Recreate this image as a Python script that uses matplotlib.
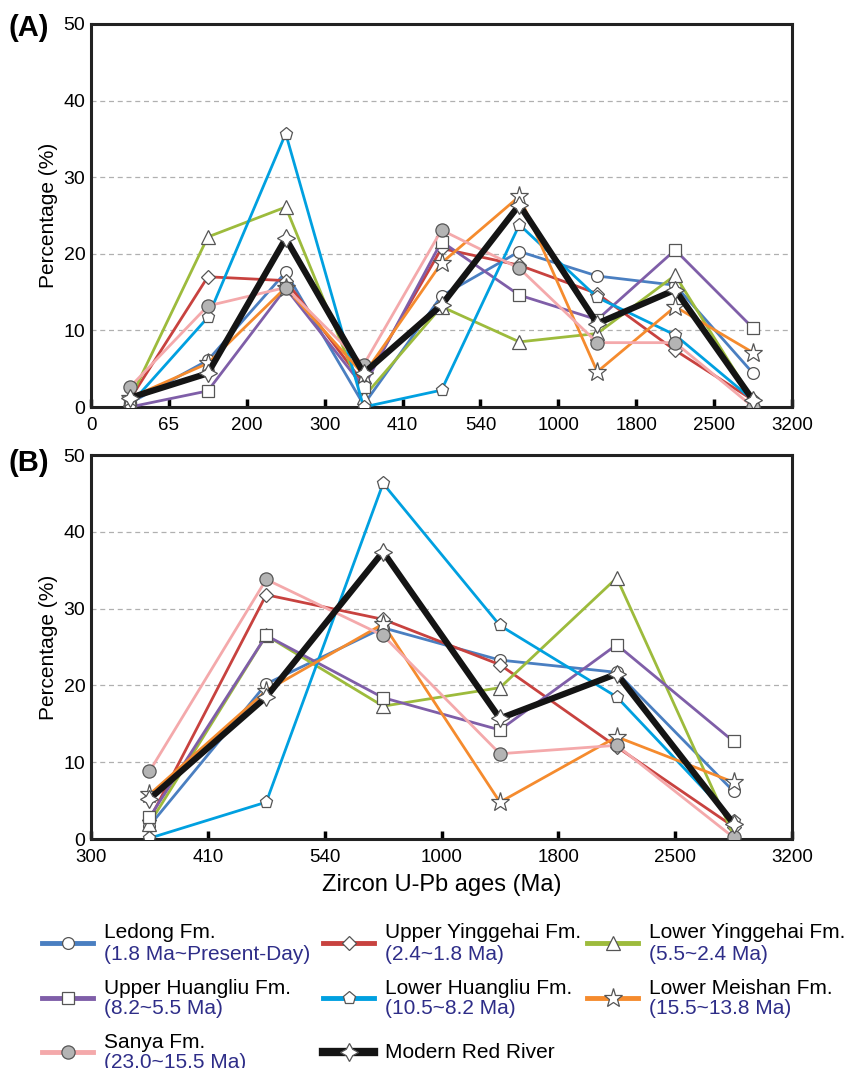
import numpy as np
import matplotlib.pyplot as plt
from matplotlib.lines import Line2D

plt.rcParams['font.family'] = ['Liberation Sans', 'DejaVu Sans']

# 凡例の名前と年代
names = ["Ledong Fm.", "Upper Yinggehai Fm.", "Lower Yinggehai Fm.",
         "Upper Huangliu Fm.", "Lower Huangliu Fm.", "Lower Meishan Fm.",
         "Sanya Fm.", "Modern Red River"]
ages = ["(1.8 Ma~Present-Day)", "(2.4~1.8 Ma)", "(5.5~2.4 Ma)",
        "(8.2~5.5 Ma)", "(10.5~8.2 Ma)", "(15.5~13.8 Ma)",
        "(23.0~15.5 Ma)", ""]

# (A) の区切りと値 (%)
ticks_a = ["0", "65", "200", "300", "410", "540", "1000", "1800", "2500", "3200"]
ledong_a = [0.5, 6.1, 17.6, 0.3, 14.5, 20.3, 17.1, 15.9, 4.4]
up_ying_a = [1.0, 17.0, 16.5, 3.1, 20.7, 18.5, 14.8, 7.4, 0.9]
lo_ying_a = [1.0, 22.2, 26.1, 1.3, 13.1, 8.5, 9.6, 17.2, 0.9]
up_huang_a = [0.0, 2.1, 15.5, 2.6, 21.6, 14.6, 11.4, 20.5, 10.3]
lo_huang_a = [0.3, 11.7, 35.7, 0.0, 2.2, 23.8, 14.3, 9.4, 0.9]
lo_meishan_a = [1.2, 5.7, 15.6, 4.2, 18.8, 27.5, 4.6, 13.1, 7.1]
sanya_a = [2.6, 13.2, 15.6, 5.5, 23.1, 18.1, 8.4, 8.4, 0.0]
modern_a = [1.2, 4.4, 22.0, 4.4, 13.3, 26.4, 10.9, 15.3, 0.9]

# (B) の区切りと値 (%)
ticks_b = ["300", "410", "540", "1000", "1800", "2500", "3200"]
ledong_b = [1.7, 20.2, 27.5, 23.3, 21.7, 6.2]
up_ying_b = [2.5, 31.8, 28.6, 22.7, 12.0, 1.6]
lo_ying_b = [2.0, 26.5, 17.3, 19.7, 34.0, 0.5]
up_huang_b = [2.8, 26.5, 18.4, 14.2, 25.3, 12.7]
lo_huang_b = [0.1, 4.8, 46.3, 27.8, 18.5, 2.4]
lo_meishan_b = [5.8, 19.3, 28.0, 4.8, 13.3, 7.4]
sanya_b = [8.8, 33.8, 26.5, 11.1, 12.2, 0.2]
modern_b = [5.2, 18.5, 37.4, 15.7, 21.5, 2.0]

colors = ["#4a7fc1", "#c8423f", "#9dbb3c", "#7f5ea8",
          "#00a0e0", "#f58b2e", "#f4a9ab", "#141414"]
markers = ["o", "D", "^", "s", "p", "*", "o", (4, 1, 0)]
msizes = [8.5, 7.5, 9.5, 8.5, 9.5, 14, 9.5, 13]
mfaces = ["white"] * 6 + ["#b4b4b4", "white"]
lws = [2, 2, 2, 2, 2, 2, 2, 4.5]

fig = plt.figure(figsize=(8.46, 10.68), dpi=100)
W, H = 846, 1068
ax_a = fig.add_axes([91 / W, 1 - 407 / H, 701 / W, 383 / H])
ax_b = fig.add_axes([91 / W, 1 - 839 / H, 701 / W, 384 / H])

series_a = [ledong_a, up_ying_a, lo_ying_a, up_huang_a, lo_huang_a,
            lo_meishan_a, sanya_a, modern_a]
series_b = [ledong_b, up_ying_b, lo_ying_b, up_huang_b, lo_huang_b,
            lo_meishan_b, sanya_b, modern_b]

for ax, series, ticks in [(ax_a, series_a, ticks_a), (ax_b, series_b, ticks_b)]:
    x = np.arange(len(series[0])) + 0.5
    for i, y in enumerate(series):
        ax.plot(x, y, color=colors[i], lw=lws[i], zorder=3 + i * 0.1,
                marker=markers[i], ms=msizes[i], mfc=mfaces[i],
                mec="#555555", mew=0.9)
    ax.set_xlim(0, len(ticks) - 1)
    ax.set_ylim(0, 50)
    ax.set_xticks(np.arange(len(ticks)))
    ax.set_xticklabels(ticks, fontsize=13.5)
    ax.set_yticks([0, 10, 20, 30, 40, 50])
    ax.tick_params(axis="y", length=0, labelsize=14, pad=4)
    ax.tick_params(axis="x", direction="in", length=6, width=2.5, pad=7)
    for yy in [10, 20, 30, 40]:
        ax.axhline(yy, color="#b0b0b0", lw=0.9, ls=(0, (4, 3)), zorder=1)
    for sp in ax.spines.values():
        sp.set_linewidth(2.2)
        sp.set_color("#222222")
    ax.set_ylabel("Percentage (%)", fontsize=15, labelpad=4)

ax_b.set_xlabel("Zircon U-Pb ages (Ma)", fontsize=17, labelpad=6)

fig.text(8 / W, 1 - 28 / H, "(A)", fontsize=21, fontweight="bold", va="center")
fig.text(8 / W, 1 - 463 / H, "(B)", fontsize=21, fontweight="bold", va="center")

# 凡例 (2行目は青文字)
leg = fig.add_axes([0, 0, 1, 168 / H])
leg.set_xlim(0, W)
leg.set_ylim(H, 900)
leg.axis("off")
col_x = [42, 323, 587]
row_y = [943, 998, 1052]
for i in range(len(names)):
    cx = col_x[i % 3]
    ry = row_y[i // 3]
    leg.add_line(Line2D([cx, cx + 51], [ry, ry], color=colors[i], lw=lws[i] + 1.5))
    leg.plot([cx + 25.5], [ry], marker=markers[i], ms=msizes[i], mfc=mfaces[i],
             mec="#555555", mew=0.9, ls="none")
    if ages[i]:
        leg.text(cx + 62, ry - 10, names[i], fontsize=15, va="center")
        leg.text(cx + 62, ry + 11, ages[i], fontsize=15, va="center",
                 color="#2e2d88")
    else:
        leg.text(cx + 62, ry, names[i], fontsize=15, va="center")

fig.savefig("out.png", dpi=100)
